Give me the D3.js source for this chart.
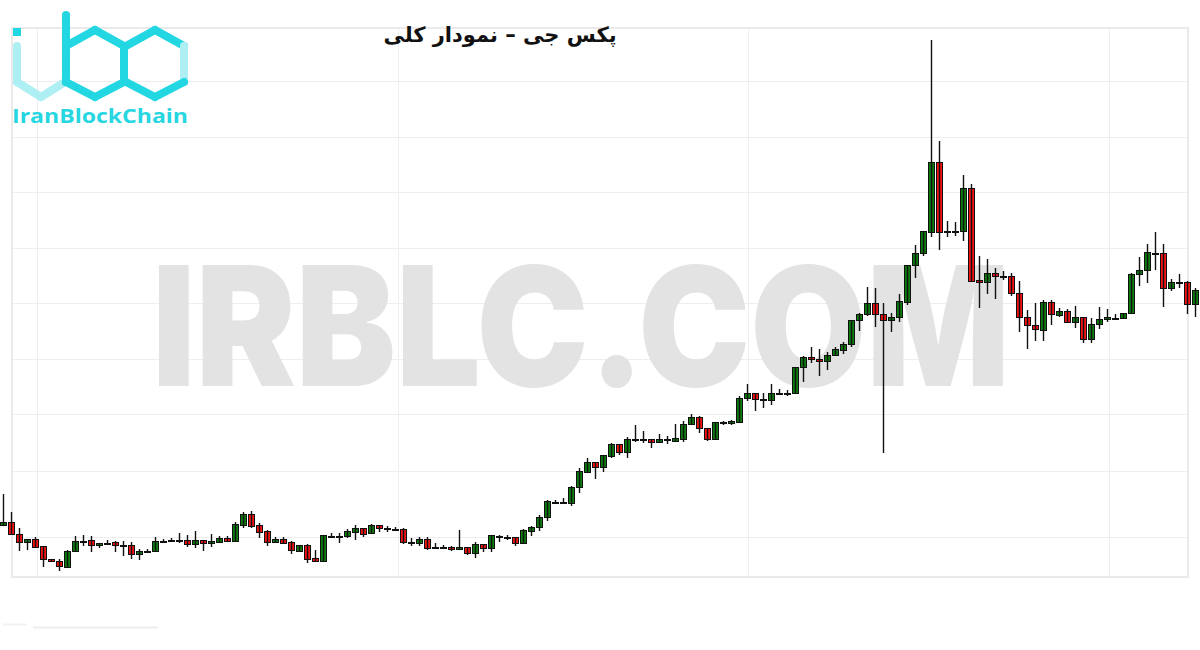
<!DOCTYPE html>
<html>
<head>
<meta charset="utf-8">
<script src="https://cdn.jsdelivr.net/npm/d3@7"></script>
<style>
  html, body { margin: 0; padding: 0; background: #ffffff; }
  svg { display: block; }
</style>
</head>
<body>
<div id="chart"></div>
<script>
// ---------------- DATA ----------------
const title = "پکس جی – نمودار کلی";
const watermark = "IRBLC.COM";
const brand = "IranBlockChain";

const opens = [7.5,7.8,6.6,5.8,6.1,5.4,4.1,3.9,3.3,4.9, 5.9,6.0,5.5,5.75,5.8,5.5,5.5,4.6,4.9,4.9,
  5.9,6.0,6.0,6.0,5.6,6.0,5.7,5.8,6.2,5.9, 7.5,8.6,7.5,6.9,5.8,6.1,5.8,4.9,5.5,4.2,
  3.9,6.4,6.4,6.4,6.8,7.2,6.7,7.5,7.2,7.1, 7.1,5.8,5.7,6.1,5.3,5.3,5.3,5.1,5.3,4.7,
  5.6,5.2,6.45,6.3,6.3,5.7,6.9,7.3,8.3,9.85, 9.75,9.7,11.3,12.8,13.8,13.3,14.4,15.6,14.8,16.1,
  16.1,16.1,15.8,16.1,15.9,16.1,17.6,18.3,17.2,16.1, 17.75,17.7,17.8,20.2,20.7,20.1,20.0,20.7,20.7,20.7,
  23.3,24.3,24.1,23.9,24.5,25.0,25.6,28.0,28.6,29.7, 28.6,28.0,28.3,29.8,33.5,34.7,36.8,43.8,36.9,36.9,
  36.9,41.2,32.0,31.8,32.7,32.4,32.4,30.7,28.3,27.5, 27.0,29.8,28.5,28.9,27.8,28.3,26.1,27.6,28.1,28.25,
  28.2,28.7,32.6,33.0,34.7,34.7,31.2,31.8,31.8,29.6];
const highs = [10.6,8.8,7.2,6.1,6.3,5.4,4.1,4.1,5.0,6.4, 6.5,6.4,5.7,6.0,5.9,5.9,5.8,5.1,5.1,6.3,
  6.1,6.2,6.7,6.5,6.9,6.0,6.6,6.4,6.4,7.8, 8.8,8.9,7.7,7.0,6.3,6.3,5.9,5.5,5.6,5.0,
  6.5,6.7,6.7,7.1,7.5,7.2,7.6,7.5,7.4,7.3, 7.2,6.2,6.3,6.3,5.7,5.5,5.4,7.0,5.3,5.8,
  5.6,6.5,6.5,6.5,6.3,7.1,7.4,8.5,10.0,10.0, 10.2,11.4,13.2,14.2,13.8,14.5,15.7,15.6,16.3,17.5,
  16.9,16.1,16.6,16.4,17.6,17.9,18.6,18.4,17.2,17.8, 17.9,18.0,20.4,21.6,20.7,20.7,21.6,21.1,21.0,23.3,
  24.4,25.3,25.1,24.8,25.3,25.8,28.0,28.7,31.3,31.2, 29.7,28.7,30.6,33.5,35.5,36.9,56.0,45.9,37.9,37.8,
  42.5,41.6,34.4,34.1,33.2,32.9,32.7,31.9,29.0,29.7, 30.0,30.0,29.2,29.1,29.4,28.3,28.2,29.3,29.1,28.6,
  28.7,32.7,34.3,35.6,36.8,35.6,32.1,32.6,31.9,31.2];
const lows = [7.5,6.6,4.9,5.0,5.2,3.3,3.8,2.9,3.3,4.9, 5.4,4.8,5.2,5.7,4.8,4.4,4.1,4.0,4.7,4.9,
  5.7,5.8,5.7,5.3,5.2,4.9,5.3,5.7,5.9,5.9, 7.2,7.2,6.2,5.4,5.8,5.6,4.6,4.8,3.7,3.9,
  3.9,6.2,5.7,6.2,6.0,6.3,6.6,6.8,6.8,7.0, 5.6,5.4,5.4,5.0,5.1,5.1,4.9,5.1,4.5,4.2,
  4.8,4.8,5.8,6.0,5.4,5.6,6.4,6.9,7.9,9.6, 9.7,9.4,10.7,12.7,12.1,12.8,14.2,14.5,14.2,15.8,
  15.7,15.2,15.8,15.6,15.9,15.8,17.6,16.7,15.9,16.1, 17.5,17.5,17.8,19.9,18.9,19.2,19.5,20.5,20.4,20.7,
  21.8,23.7,22.4,23.0,24.5,24.6,25.3,26.9,28.4,27.3, 14.7,26.8,27.8,29.5,32.2,34.4,36.3,35.0,36.3,36.4,
  35.9,31.8,29.2,30.6,30.1,32.0,30.4,26.8,25.1,25.9, 25.9,27.5,28.3,27.8,27.2,25.7,25.7,27.1,27.8,28.0,
  28.1,28.7,31.4,31.7,33.0,29.3,30.9,31.2,28.6,28.3];
const closes = [7.8,6.6,5.8,6.1,5.3,4.1,3.9,3.4,4.9,5.9, 5.9,5.5,5.7,5.75,5.5,5.5,4.6,4.9,4.9,5.9,
  5.9,6.0,6.0,5.6,6.0,5.7,5.9,6.2,5.9,7.6, 8.6,7.4,6.8,5.8,6.1,5.7,5.0,5.5,4.1,3.9,
  6.5,6.4,6.4,6.9,7.2,6.6,7.5,7.2,7.2,7.1, 5.8,5.8,6.1,5.2,5.3,5.3,5.1,5.3,4.7,5.6,
  5.2,6.5,6.45,6.3,5.7,7.0,7.3,8.3,9.9,9.85, 9.85,11.3,12.9,13.8,13.3,14.5,15.6,14.8,16.1,16.1,
  16.1,15.8,16.1,16.1,16.2,17.6,18.3,17.2,16.1,17.8, 17.75,17.9,20.2,20.7,20.1,20.1,20.7,20.7,20.7,23.3,
  24.3,24.1,23.9,24.5,25.1,25.6,28.0,28.6,29.7,28.6, 28.0,28.3,29.9,33.5,34.7,36.9,43.8,36.8,36.9,36.9,
  41.2,31.9,31.8,32.7,32.4,32.4,30.7,28.3,27.5,27.1, 29.8,28.6,28.9,27.8,28.3,26.1,27.6,28.1,28.3,28.25,
  28.7,32.6,33.0,34.8,34.7,31.2,31.8,31.8,29.6,31.0];

// horizontal grid levels (price) and vertical grid positions (candle index)
const gridLevels = [51.9, 46.3, 40.8, 35.2, 29.7, 24.1, 18.6, 12.9, 6.3];
const gridIndexes = [4.25, 49.375, 93.125, 138.25];

// ---------------- CHART ----------------
const W = 1200, H = 650;
const plot = { left: 12, right: 1188, top: 28, bottom: 577 };

const candles = opens.map((o, i) => ({ i, o, h: highs[i], l: lows[i], c: closes[i] }));

const x = d3.scaleLinear().domain([0, candles.length - 1]).range([3, 1195]);
const y = d3.scaleLinear().domain([0, 60]).range([600, 0]);
const bodyW = 6;

const svg = d3.select("#chart").append("svg")
  .attr("width", W).attr("height", H)
  .attr("viewBox", `0 0 ${W} ${H}`);

svg.append("rect").attr("width", W).attr("height", H).attr("fill", "#ffffff");

// grid
const grid = svg.append("g").attr("shape-rendering", "crispEdges");
grid.selectAll("line.h").data(gridLevels).join("line")
  .attr("class", "h")
  .attr("x1", plot.left).attr("x2", plot.right)
  .attr("y1", d => Math.round(y(d)) + 0.5).attr("y2", d => Math.round(y(d)) + 0.5)
  .attr("stroke", "#eeeeee").attr("stroke-width", 1.5);
grid.selectAll("line.v").data(gridIndexes).join("line")
  .attr("class", "v")
  .attr("x1", d => Math.round(x(d)) + 0.5).attr("x2", d => Math.round(x(d)) + 0.5)
  .attr("y1", plot.top).attr("y2", plot.bottom)
  .attr("stroke", "#eeeeee").attr("stroke-width", 1.5);
grid.append("rect")
  .attr("x", plot.left).attr("y", plot.top)
  .attr("width", plot.right - plot.left).attr("height", plot.bottom - plot.top)
  .attr("fill", "none").attr("stroke", "#eaeaea").attr("stroke-width", 2);

// stray faint line below chart
svg.append("line").attr("x1", 33).attr("x2", 158).attr("y1", 627.5).attr("y2", 627.5)
  .attr("stroke", "#eeeeee").attr("stroke-width", 2);
svg.append("line").attr("x1", 3).attr("x2", 27).attr("y1", 624.5).attr("y2", 624.5)
  .attr("stroke", "#f2f2f2").attr("stroke-width", 2);

// watermark
svg.append("text")
  .attr("x", 152).attr("y", 386)
  .attr("textLength", 858).attr("lengthAdjust", "spacingAndGlyphs")
  .attr("font-family", "Inter, 'Open Sans', sans-serif")
  .attr("font-weight", 900)
  .attr("font-size", 166)
  .attr("fill", "#e3e3e3")
  .text(watermark);

// candles
const g = svg.append("g");
const cg = g.selectAll("g.candle").data(candles).join("g").attr("class", "candle");

cg.append("rect")
  .attr("shape-rendering", "crispEdges")
  .attr("x", d => Math.round(x(d.i)) - bodyW / 2)
  .attr("width", bodyW)
  .attr("y", d => Math.round(y(Math.max(d.o, d.c))))
  .attr("height", d => Math.max(1, Math.round(Math.abs(y(d.o) - y(d.c)))))
  .attr("fill", d => d.c > d.o ? "#0c7a0c" : (d.c < d.o ? "#f01212" : "#111111"))
  .attr("stroke", "#111111").attr("stroke-width", 1);

cg.append("line")
  .attr("x1", d => Math.round(x(d.i)) + 0.5).attr("x2", d => Math.round(x(d.i)) + 0.5)
  .attr("y1", d => y(d.h)).attr("y2", d => y(d.l))
  .attr("stroke", "#111111").attr("stroke-width", 1.4);

// title
svg.append("text")
  .attr("x", 500).attr("y", 42)
  .attr("text-anchor", "middle")
  .attr("direction", "rtl")
  .attr("font-family", "'DejaVu Sans', sans-serif")
  .attr("font-weight", "bold")
  .attr("font-size", 21)
  .attr("fill", "#111111")
  .text(title);

// logo
const logo = svg.append("g");
const bright = "#22d7e1", light = "#aeeff3";
const hexPts = (cx, hw) => {
  // pointy-top hexagon with vertical sides
  return [[cx, 30], [cx + hw, 46], [cx + hw, 82], [cx, 97], [cx - hw, 82], [cx - hw, 46]];
};
const seg = (a, b, col) => logo.append("line")
  .attr("x1", a[0]).attr("y1", a[1]).attr("x2", b[0]).attr("y2", b[1])
  .attr("stroke", col).attr("stroke-width", 8).attr("stroke-linecap", "round");
// i
const h1 = hexPts(41, 24);
seg(h1[5], h1[4], light); seg(h1[4], h1[3], light); seg(h1[3], h1[2], light);
logo.append("rect").attr("x", 13).attr("y", 28).attr("width", 8).attr("height", 8).attr("fill", bright);
// b
const h2 = hexPts(95, 29);
for (let k = 0; k < 6; k++) seg(h2[k], h2[(k + 1) % 6], bright);
seg([66, 15], [66, 82], bright);
// c
const h3 = hexPts(155, 29);
seg(h3[5], h3[0], bright); seg(h3[0], h3[1], bright);
seg(h3[1], h3[2], light);
seg(h3[2], h3[3], bright); seg(h3[3], h3[4], bright);

logo.append("text")
  .attr("x", 12).attr("y", 123)
  .attr("textLength", 176).attr("lengthAdjust", "spacingAndGlyphs")
  .attr("font-family", "'Open Sans', sans-serif")
  .attr("font-weight", "bold")
  .attr("font-size", 20)
  .attr("fill", "#26d6e0")
  .text(brand);
</script>
</body>
</html>
